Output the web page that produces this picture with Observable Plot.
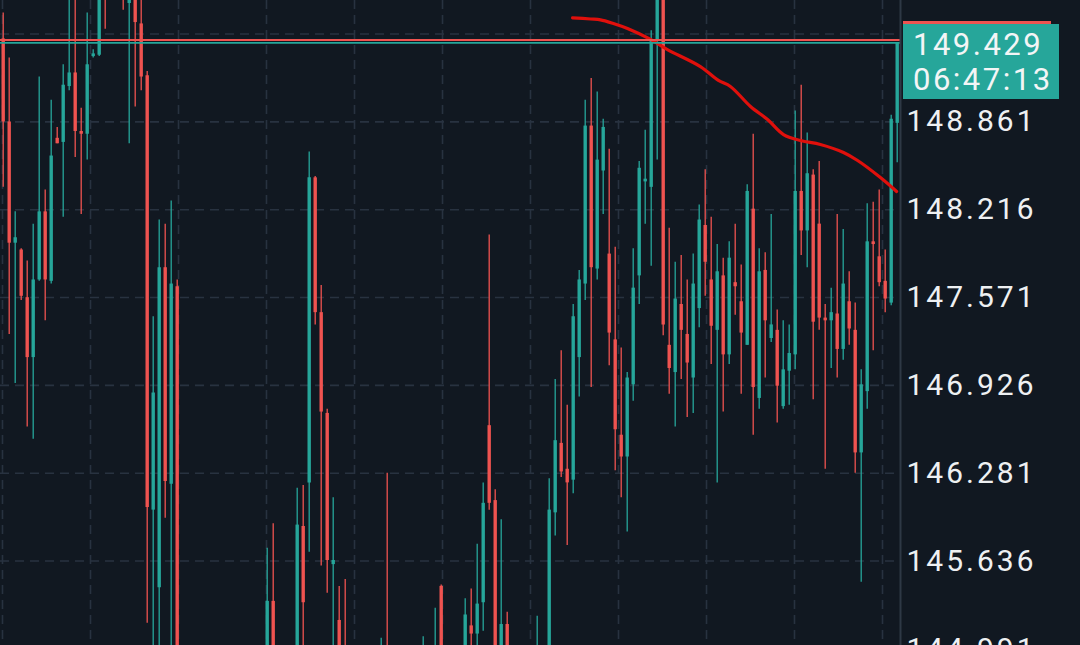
<!DOCTYPE html>
<html><head><meta charset="utf-8">
<script src="https://cdn.jsdelivr.net/npm/d3@7"></script>
<script src="https://cdn.jsdelivr.net/npm/@observablehq/plot@0.6"></script>
<style>
html,body{margin:0;padding:0;background:#111821;overflow:hidden}
#wrap{position:relative;width:1080px;height:645px;overflow:hidden}
#wrap svg text{letter-spacing:3px}
.ov{position:absolute;font-family:Roboto,sans-serif;color:#f3f5f6;box-sizing:border-box}
</style></head><body><div id="wrap"></div>
<script>
// OHLC per candle slot (null = candle entirely outside the visible window)
const open  = [149.47,148.86,147.97,147.92,147.57,147.13,147.70,148.20,147.69,148.74,148.71,149.12,149.22,148.79,148.77,149.34,149.35,149.99,null,null,
150.10,149.73,149.84,149.58,149.20,146.01,145.44,147.79,146.20,147.65,null,null,null,null,null,null,null,null,null,null,
null,null,null,null,144.77,145.34,null,null,null,144.77,145.89,146.21,148.45,147.46,146.72,145.61,145.20,144.92,null,null,
null,null,null,144.70,144.98,null,null,null,null,null,144.70,null,144.75,145.45,null,null,null,144.80,145.16,145.10,
145.33,146.63,146.08,144.80,145.17,null,null,null,null,144.70,null,144.80,145.99,146.50,146.31,146.23,147.13,147.67,148.83,147.78,
148.50,147.89,147.26,146.56,146.40,146.93,147.73,148.42,148.38,149.45,149.90,147.22,147.02,147.52,147.30,146.98,147.49,148.10,147.70,147.33,
147.73,147.15,147.68,147.54,147.22,148.22,146.83,147.77,147.27,147.33,146.77,147.03,147.15,148.35,148.06,148.47,148.11,147.42,147.40,147.45,
147.19,147.54,147.33,146.43,146.88,147.98,147.87,147.69,147.53,148.85];
const high  = [149.66,149.33,148.20,147.93,147.84,148.11,149.19,148.36,149.02,148.82,149.28,149.81,149.78,148.96,149.66,149.39,149.87,150.05,null,null,
150.15,150.00,149.90,149.78,149.23,147.43,148.14,148.11,148.28,147.70,null,null,null,null,null,null,null,null,null,null,
null,null,null,null,145.73,145.91,null,null,null,146.17,146.19,148.64,148.46,147.66,146.75,146.10,145.45,145.50,null,null,
null,null,null,145.07,146.28,null,null,null,null,null,145.08,null,145.29,145.46,null,null,null,145.36,145.43,145.76,
146.21,148.03,146.16,145.94,145.26,null,null,null,null,145.23,null,146.24,146.97,147.18,146.78,147.52,147.77,149.02,149.18,149.08,
148.88,148.66,147.94,147.20,147.02,147.93,148.57,148.80,149.53,149.95,149.95,148.08,147.83,147.88,147.70,147.89,148.25,148.51,148.16,147.96,
147.86,147.98,148.11,147.81,148.40,148.77,147.93,147.90,148.18,147.48,147.40,147.37,148.94,149.13,148.78,148.51,148.57,147.52,147.64,148.18,
148.07,147.76,147.53,147.04,148.26,148.27,148.36,147.92,148.91,149.44];
const low   = [148.38,147.30,146.94,147.55,146.62,146.53,147.69,147.40,147.67,148.70,148.16,149.09,148.60,148.18,148.58,149.33,149.34,149.54,null,null,
149.68,148.70,148.97,149.09,145.18,144.77,144.77,145.95,144.92,144.31,null,null,null,null,null,null,null,null,null,null,
null,null,null,null,144.60,144.60,null,null,null,144.60,144.92,145.70,147.37,145.60,145.40,144.62,144.60,144.50,null,null,
null,null,null,144.60,144.60,null,null,null,null,null,144.60,null,144.60,144.60,null,null,null,144.60,144.70,144.80,
145.12,146.01,144.60,144.60,144.60,null,null,null,null,144.60,null,144.60,145.82,146.25,145.75,146.13,146.84,147.55,146.91,147.70,
148.18,147.07,146.30,146.10,145.85,146.81,147.52,148.11,147.80,148.58,147.29,146.86,146.62,146.97,146.69,146.72,147.35,147.58,147.08,146.21,
146.73,147.08,147.44,146.86,147.22,146.56,146.75,146.98,147.24,146.65,146.75,146.78,147.04,147.88,147.79,146.82,147.33,146.31,147.05,146.98,
147.11,147.22,146.28,145.48,146.75,147.18,147.65,147.46,147.51,148.56];
const close = [148.86,147.97,148.01,147.58,147.13,147.70,148.20,147.70,148.61,148.70,149.13,149.22,148.79,148.77,149.28,149.36,149.81,149.81,null,null,
149.85,149.95,149.59,149.19,146.03,146.87,147.79,146.22,147.67,144.62,null,null,null,null,null,null,null,null,null,null,
null,null,null,null,145.34,144.77,null,null,null,145.90,145.33,148.45,147.46,146.73,145.64,145.64,144.77,144.62,null,null,
null,null,null,144.95,144.70,null,null,null,null,null,144.95,null,144.98,144.80,null,null,null,145.24,145.10,145.32,
146.06,146.06,144.80,145.17,144.80,null,null,null,null,144.95,null,146.01,146.52,146.29,146.21,147.43,147.70,148.83,147.79,148.58,
148.82,147.31,146.60,146.40,146.98,147.64,148.52,148.44,149.45,149.90,147.37,147.05,147.56,147.33,147.09,147.67,148.14,147.83,147.36,147.76,
147.15,147.86,147.65,147.31,148.35,146.91,147.76,147.40,147.37,146.92,147.04,147.16,148.35,148.06,148.48,147.39,147.42,147.40,147.46,147.19,
147.67,147.34,146.43,146.93,147.98,147.96,147.68,147.56,148.88,149.44];

// moving average curve, read as (candle slot, price)
const maSlot  = [94.9,97.9,99.55,101.7,104.05,107.9,110.7,116.2,119.2,121.2,124.55,127.4,130.05,132.9,136.2,140.05,142.4,146.2,148.9];
const maPrice = [149.625,149.616,149.610,149.583,149.546,149.466,149.392,149.267,149.165,149.121,148.974,148.878,148.768,148.724,148.695,148.636,148.577,148.452,148.350];

// price grid levels; labelled ticks (the top level is hidden under the price box)
const yGrid  = [144.991,145.636,146.281,146.926,147.571,148.216,148.861,149.506];
const yLabels = [144.991,145.636,146.281,146.926,147.571,148.216,148.861];
const gridTimes = [-0.12,14.55,29.22,43.88,58.55,73.22,87.88,102.55,117.22,131.88,146.55];

const bidLine = 149.441, askLine = 149.462;
const priceText = "149.429", timeText = "06:47:13";

const up = "#26a69a", down = "#ef5350", grid = "#283240";
const candles = open.map((o,i)=>({i,o,h:high[i],l:low[i],c:close[i]})).filter(d=>d.o!=null);
const col = d => d.c >= d.o ? up : down;
const minB = 0.008;
const bTop = d => Math.max(d.o,d.c, Math.min(d.o,d.c)+minB);
const bBot = d => Math.min(d.o,d.c);
const xDom = [-0.45,149.55];

const chart = Plot.plot({
  width:1080, height:645, marginLeft:0, marginRight:180, marginTop:0, marginBottom:0,
  style:{background:"#111821", fontFamily:"Roboto, sans-serif", overflow:"hidden"},
  x:{domain:xDom, axis:null},
  y:{domain:[145.016,149.752], axis:null},
  marks:[
    Plot.ruleY(yGrid,{stroke:grid, strokeWidth:1.6, strokeDasharray:"9,6"}),
    Plot.ruleX(gridTimes,{stroke:grid, strokeWidth:1.6, strokeDasharray:"9,6"}),
    Plot.ruleX(candles,{x:"i", y1:"l", y2:"h", stroke:col, strokeWidth:1.3, clip:true}),
    Plot.ruleX(candles,{x:"i", y1:bBot, y2:bTop, stroke:col, strokeWidth:3.4, clip:true}),
    Plot.line(maSlot.map((s,k)=>({s,p:maPrice[k]})),{x:"s", y:"p", stroke:"#e0100c", strokeWidth:3.2, curve:"catmull-rom", clip:true}),
    Plot.ruleY([askLine],{stroke:down, strokeWidth:1.8}),
    Plot.ruleY([bidLine],{stroke:up, strokeWidth:1.8}),
    Plot.ruleX([xDom[1]],{stroke:"#2e3845", strokeWidth:2}),
    Plot.axisY(yLabels,{anchor:"right", tickSize:0, tickPadding:6, tickFormat:d=>d.toFixed(3), fontSize:30, color:"#eef0f2"})
  ]
});
const wrap = document.getElementById("wrap");
wrap.appendChild(chart);
const yp = chart.scale("y").apply(bidLine);
const bar = document.createElement("div");
bar.className = "ov";
bar.style.cssText += `left:903px;top:${yp-21}px;width:148px;height:3px;background:${down}`;
wrap.appendChild(bar);
const box = document.createElement("div");
box.className = "ov";
box.style.cssText += `left:903px;top:${yp-18}px;width:156px;height:75px;background:${up};font-size:31px;line-height:35px;padding:3px 0 0 10px;letter-spacing:2.5px`;
box.innerHTML = `<div>${priceText}</div><div>${timeText}</div>`;
wrap.appendChild(box);
</script></body></html>
